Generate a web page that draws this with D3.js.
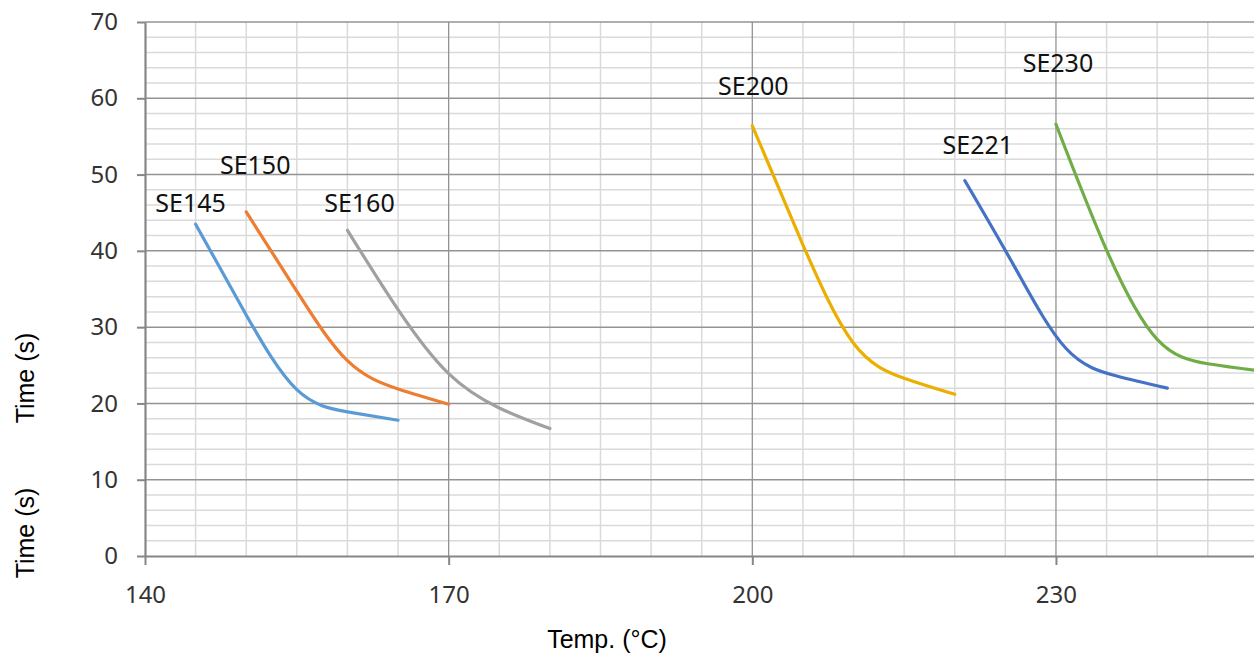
<!DOCTYPE html>
<html>
<head>
<meta charset="utf-8">
<script src="https://cdn.jsdelivr.net/npm/d3@7"></script>
<style>
  body { margin: 0; background: #fff; }
  svg { display: block; }
</style>
</head>
<body>
<div id="chart"></div>
<script>
// series names and the temps / times
var names = ["SE145", "SE150", "SE160", "SE200", "SE221", "SE230"];
var temps = [
  [145, 150, 155, 160, 165],
  [150, 155, 160, 165, 170],
  [160, 165, 170, 175, 180],
  [200, 205, 210, 215, 220],
  [221, 226, 231, 236, 241],
  [230, 235, 240, 245, 250]
];
var times = [
  [43.5, 31.6, 21.8, 18.9, 17.8],
  [45.1, 34.7, 25.6, 21.9, 19.9],
  [42.7, 32.3, 23.9, 19.4, 16.7],
  [56.4, 40.8, 27.9, 23.3, 21.2],
  [49.2, 37.7, 27.2, 23.6, 22.0],
  [56.6, 40.1, 28.4, 25.2, 24.3]
];
var xTicks = [140, 170, 200, 230];
var yTicks = [0, 10, 20, 30, 40, 50, 60, 70];

var colors = ["#5B9BD5", "#ED7D31", "#A0A0A0", "#EBAF00", "#4472C4", "#70AD47"];
// label offset from first point of each series (px)
var labelOff = [[-5, -12], [9, -38], [12, -18], [1, -31], [13, -27], [2, -52]];

var W = 1254, H = 656;

var svg = d3.select("#chart").append("svg")
  .attr("width", W)
  .attr("height", H);

var x = d3.scaleLinear().domain([140, 250]).range([145, 1258.4]);
var y = d3.scaleLinear().domain([0, 70]).range([556, 22]);

// minor grid
var gMinor = svg.append("g");
gMinor.selectAll("line.vx")
  .data(d3.range(145, 251, 5).filter(function(v) { return (v - 140) % 30 !== 0; }))
  .enter().append("line")
  .attr("x1", function(d) { return x(d); })
  .attr("x2", function(d) { return x(d); })
  .attr("y1", y(0)).attr("y2", y(70))
  .attr("stroke", "#dadada").attr("stroke-width", 1.5);
gMinor.selectAll("line.hy")
  .data(d3.range(2, 70, 2).filter(function(v) { return v % 10 !== 0; }))
  .enter().append("line")
  .attr("y1", function(d) { return y(d); })
  .attr("y2", function(d) { return y(d); })
  .attr("x1", x(140)).attr("x2", x(250))
  .attr("stroke", "#dadada").attr("stroke-width", 1.5);

// major grid
var gMajor = svg.append("g");
gMajor.selectAll("line.vx")
  .data(xTicks.slice(1))
  .enter().append("line")
  .attr("x1", function(d) { return x(d); })
  .attr("x2", function(d) { return x(d); })
  .attr("y1", y(0)).attr("y2", y(70))
  .attr("stroke", "#939393").attr("stroke-width", 1.3);
gMajor.selectAll("line.hy")
  .data(yTicks.slice(1))
  .enter().append("line")
  .attr("y1", function(d) { return y(d); })
  .attr("y2", function(d) { return y(d); })
  .attr("x1", x(140)).attr("x2", x(250))
  .attr("stroke", "#939393").attr("stroke-width", 1.5);

// axes
var yAxis = svg.append("g")
  .attr("transform", "translate(" + x(140) + ",0)")
  .call(d3.axisLeft(y).tickValues(yTicks).tickSize(8).tickSizeOuter(0).tickPadding(19));
var xAxis = svg.append("g")
  .attr("transform", "translate(0," + y(0) + ")")
  .call(d3.axisBottom(x).tickValues(xTicks).tickSize(9).tickSizeOuter(0).tickPadding(21));

[yAxis, xAxis].forEach(function(a) {
  a.select(".domain").attr("stroke", "#868686").attr("stroke-width", 2.2);
  a.selectAll(".tick line").attr("stroke", "#868686").attr("stroke-width", 2);
  a.selectAll(".tick text")
    .attr("fill", "#333")
    .style("font-family", "'Noto Sans', sans-serif")
    .style("font-size", "24px");
});

// series
var line = d3.line()
  .x(function(d) { return x(d[0]); })
  .y(function(d) { return y(d[1]); })
  .curve(d3.curveNatural);

names.forEach(function(name, i) {
  var pts = d3.zip(temps[i], times[i]);
  svg.append("path")
    .datum(pts)
    .attr("d", line)
    .attr("fill", "none")
    .attr("stroke", colors[i])
    .attr("stroke-width", 3.2)
    .attr("stroke-linecap", "round");

  svg.append("text")
    .attr("x", x(pts[0][0]) + labelOff[i][0])
    .attr("y", y(pts[0][1]) + labelOff[i][1])
    .attr("text-anchor", "middle")
    .style("font-family", "'Noto Sans', sans-serif")
    .style("font-size", "25px")
    .attr("fill", "#111")
    .text(name);
});

// axis titles
[378, 533].forEach(function(cy) {
  svg.append("text")
    .attr("transform", "translate(34," + cy + ") rotate(-90)")
    .attr("text-anchor", "middle")
    .style("font-family", "'Liberation Sans', Arial, sans-serif")
    .style("font-size", "25px")
    .text("Time (s)");
});
svg.append("text")
  .attr("x", 607)
  .attr("y", 648)
  .attr("text-anchor", "middle")
  .style("font-family", "'Liberation Sans', Arial, sans-serif")
  .style("font-size", "25px")
  .text("Temp. (°C)");
</script>
</body>
</html>
